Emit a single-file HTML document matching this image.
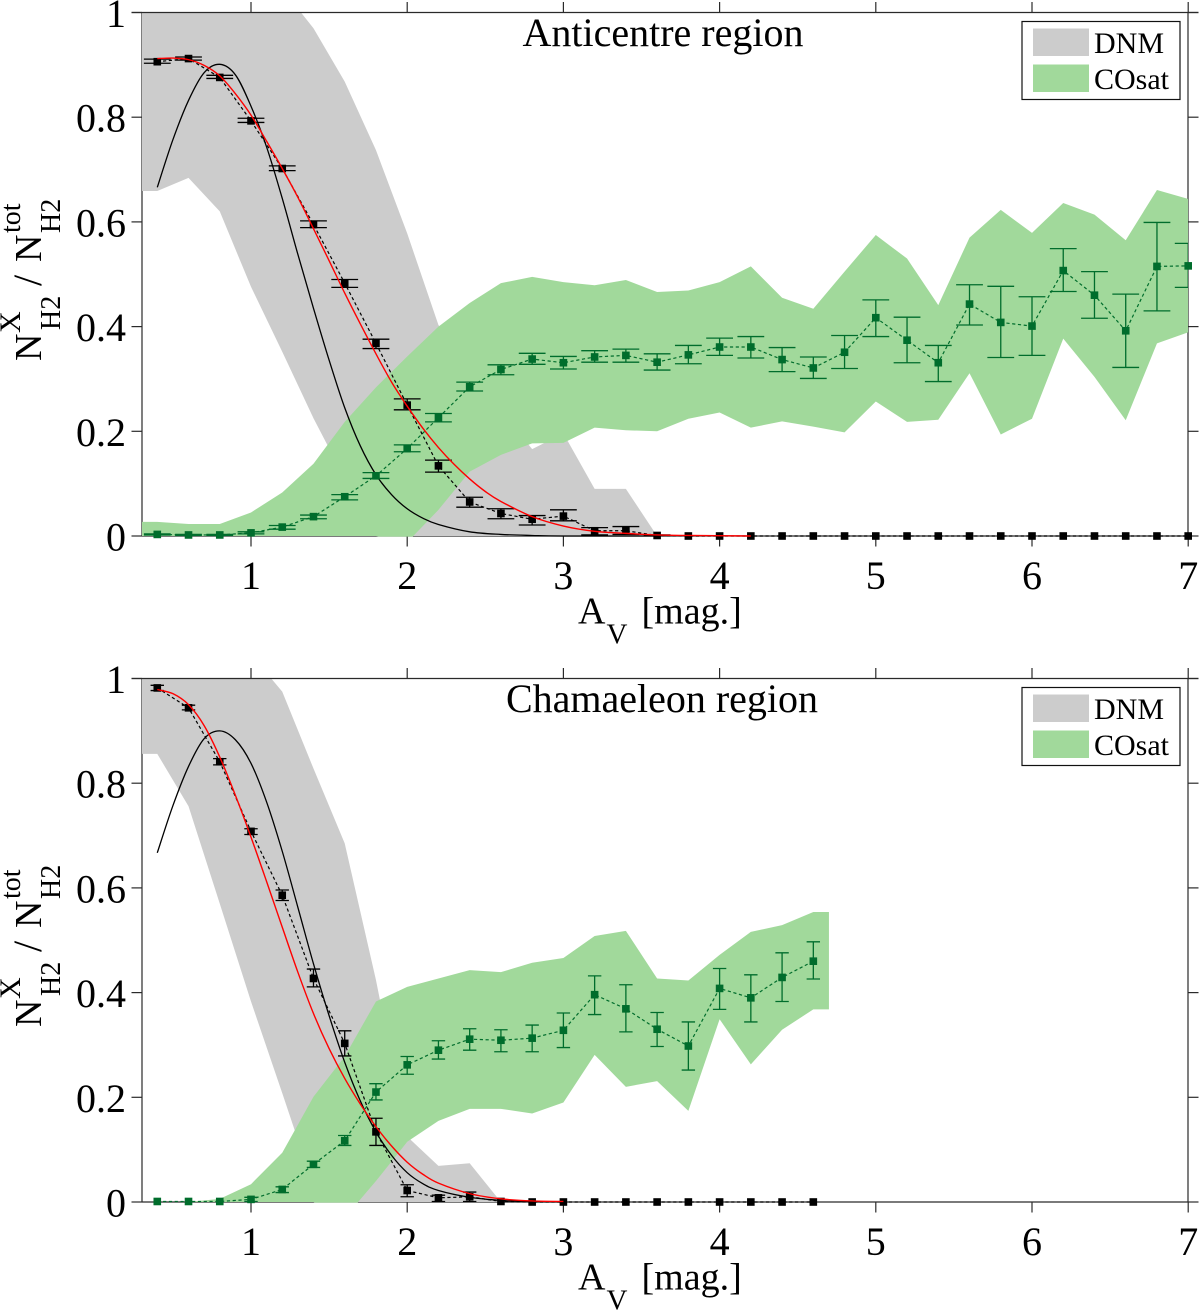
<!DOCTYPE html>
<html lang="en">
<head>
<meta charset="utf-8">
<title>H2 fractions versus AV</title>
<style>
html,body{margin:0;padding:0;background:#fff;}
svg{display:block;}
text{font-family:"Liberation Serif",serif;fill:#000;}
</style>
</head>
<body>
<svg id="figure" width="1200" height="1311" viewBox="0 0 1200 1311" xmlns="http://www.w3.org/2000/svg">
  <rect width="1200" height="1311" fill="#fff"/>
  <defs>
    <clipPath id="clip-top"><rect x="142" y="12" width="1046" height="524.6"/></clipPath>
    <clipPath id="clip-bot"><rect x="142" y="678" width="1046" height="524.6"/></clipPath>
    <clipPath id="clip-err-top"><rect x="130" y="0" width="1058" height="560"/></clipPath>
    <clipPath id="clip-err-bot"><rect x="130" y="666" width="1058" height="560"/></clipPath>
  </defs>

  <g id="panel-top"></g>
  <g id="panel-bot"></g>

  <g>
    <text x="663" y="46" font-size="40" text-anchor="middle">Anticentre region</text>
    <text y="623.5" font-size="38"><tspan x="578">A</tspan><tspan x="641.5">[mag.]</tspan></text>
    <text x="606.5" y="643.5" font-size="29">V</text>
    <g>
      <text transform="translate(41,361) rotate(-90)" font-size="38">N</text>
      <text transform="translate(60,330) rotate(-90)" font-size="28">H2</text>
      <text transform="translate(20,333) rotate(-90)" font-size="30">X</text>
      <text transform="translate(41,286) rotate(-90)" font-size="40">/</text>
      <text transform="translate(41,262) rotate(-90)" font-size="38">N</text>
      <text transform="translate(60,233) rotate(-90)" font-size="28">H2</text>
      <text transform="translate(20,233) rotate(-90)" font-size="28">tot</text>
    </g>
    <g>
      <rect x="1022" y="21.5" width="158" height="78" fill="#fff" stroke="#111" stroke-width="1.2"/>
      <rect x="1033" y="28.5" width="56" height="27.5" fill="#cccccc"/>
      <rect x="1033" y="64.5" width="56" height="27.5" fill="#a1d99b"/>
      <text x="1094" y="53" font-size="30">DNM</text>
      <text x="1094" y="89" font-size="30">COsat</text>
    </g>
  </g>

  <g>
    <text x="662" y="712" font-size="40" text-anchor="middle">Chamaeleon region</text>
    <text y="1289.5" font-size="38"><tspan x="578">A</tspan><tspan x="641.5">[mag.]</tspan></text>
    <text x="606.5" y="1309.5" font-size="29">V</text>
    <g>
      <text transform="translate(41,1027) rotate(-90)" font-size="38">N</text>
      <text transform="translate(60,996) rotate(-90)" font-size="28">H2</text>
      <text transform="translate(20,999) rotate(-90)" font-size="30">X</text>
      <text transform="translate(41,952) rotate(-90)" font-size="40">/</text>
      <text transform="translate(41,928) rotate(-90)" font-size="38">N</text>
      <text transform="translate(60,899) rotate(-90)" font-size="28">H2</text>
      <text transform="translate(20,899) rotate(-90)" font-size="28">tot</text>
    </g>
    <g>
      <rect x="1022" y="687.5" width="158" height="78" fill="#fff" stroke="#111" stroke-width="1.2"/>
      <rect x="1033" y="694.5" width="56" height="27.5" fill="#cccccc"/>
      <rect x="1033" y="730.5" width="56" height="27.5" fill="#a1d99b"/>
      <text x="1094" y="719" font-size="30">DNM</text>
      <text x="1094" y="755" font-size="30">COsat</text>
    </g>
  </g>
</svg>

<script>
// Tick labels
const xTickValues = [1, 2, 3, 4, 5, 6, 7];
const yTickValues = [0, 0.2, 0.4, 0.6, 0.8, 1];
const yTickLabels = ["0", "0.2", "0.4", "0.6", "0.8", "1"];

// Anticentre: measured points
const topDataX = [0.4,0.6,0.8,1,1.2,1.4,1.6,1.8,2,2.2,2.4,2.6,2.8,3,3.2,3.4,3.6,3.8,4,4.2,4.4,4.6,4.8,5,5.2,5.4,5.6,5.8,6,6.2,6.4,6.6,6.8,7];
const topDnmY = [0.906,0.912,0.876,0.793,0.702,0.595,0.483,0.368,0.25,0.134,0.065,0.043,0.032,0.038,0.010,0.010,0.001,0,0,0,0,0,0,0,0,0,0,0,0,0,0,0,0,0];
const topDnmHi = [0.911,0.915,0.880,0.798,0.707,0.602,0.490,0.376,0.262,0.145,0.074,0.052,0.039,0.05,0.016,0.018,0.002,0,0,0,0,0,0,0,0,0,0,0,0,0,0,0,0,0];
const topDnmLo = [0.903,0.909,0.874,0.790,0.698,0.589,0.475,0.358,0.241,0.122,0.055,0.033,0.021,0.029,0.002,0.003,0.001,0,0,0,0,0,0,0,0,0,0,0,0,0,0,0,0,0];
const topCoY = [0.003,0.002,0.002,0.006,0.017,0.037,0.075,0.115,0.167,0.226,0.285,0.318,0.338,0.331,0.342,0.345,0.332,0.346,0.361,0.361,0.337,0.321,0.351,0.417,0.374,0.331,0.443,0.408,0.401,0.507,0.460,0.392,0.515,0.516];
const topCoHi = [0.004,0.003,0.003,0.008,0.020,0.040,0.079,0.121,0.174,0.234,0.294,0.327,0.349,0.343,0.354,0.357,0.348,0.364,0.378,0.381,0.360,0.342,0.383,0.451,0.418,0.364,0.480,0.477,0.457,0.549,0.505,0.462,0.599,0.559];
const topCoLo = [0.002,0.001,0.001,0.004,0.013,0.033,0.069,0.110,0.161,0.218,0.277,0.308,0.328,0.319,0.332,0.332,0.317,0.329,0.345,0.340,0.314,0.301,0.320,0.381,0.331,0.295,0.403,0.341,0.345,0.467,0.416,0.322,0.430,0.475];

// Anticentre: shaded bands
const topBandX = [0.3,0.4,0.6,0.8,1,1.2,1.4,1.6,1.8,2,2.2,2.4,2.6,2.8,3,3.2,3.4,3.6,3.8,4,4.2,4.4,4.6,4.8,5,5.2,5.4,5.6,5.8,6,6.2,6.4,6.6,6.8,7];
const topGreyUpper = [1.2,1.2,1.18,1.15,1.1,1.045,0.97,0.868,0.737,0.578,0.403,0.32,0.24,0.166,0.196,0.09,0.09,0,0,0,0,0,0,0,0,0,0,0,0,0,0,0,0,0,0];
const topGreyLower = [0.659,0.659,0.684,0.62,0.476,0.352,0.225,0.11,0.04,0,0,0,0,0,0,0,0,0,0,0,0,0,0,0,0,0,0,0,0,0,0,0,0,0,0];
const topGreenUpper = [0.027,0.027,0.023,0.023,0.045,0.083,0.138,0.218,0.284,0.343,0.40,0.445,0.483,0.495,0.485,0.479,0.489,0.466,0.469,0.485,0.515,0.455,0.434,0.505,0.575,0.530,0.441,0.570,0.623,0.579,0.636,0.614,0.565,0.661,0.644];
const topGreenLower = [0,0,0,0,0,0,0,0,0,-0.012,0.05,0.123,0.155,0.177,0.178,0.207,0.202,0.2,0.224,0.236,0.207,0.219,0.209,0.198,0.257,0.218,0.222,0.311,0.194,0.224,0.377,0.304,0.221,0.368,0.389];

// Anticentre: model curves
const topBlackX = [0.4,0.5,0.6,0.7,0.8,0.9,1,1.1,1.2,1.3,1.4,1.5,1.6,1.7,1.8,1.9,2,2.1,2.2,2.4,2.6,2.8,3,3.6];
const topBlackY = [0.666,0.757,0.832,0.885,0.901,0.881,0.821,0.743,0.645,0.538,0.435,0.336,0.245,0.172,0.117,0.079,0.052,0.034,0.022,0.008,0.003,0.001,0,0];
const topRedX = [0.4,0.5,0.6,0.7,0.8,0.9,1,1.1,1.2,1.3,1.4,1.5,1.6,1.7,1.8,1.9,2,2.1,2.2,2.3,2.4,2.5,2.6,2.8,3,3.2,3.4,3.6,3.8,4.2];
const topRedY = [0.912,0.913,0.910,0.899,0.879,0.845,0.804,0.754,0.702,0.647,0.587,0.526,0.464,0.405,0.348,0.294,0.248,0.206,0.169,0.137,0.109,0.085,0.066,0.037,0.019,0.009,0.005,0.002,0.001,0];

// Chamaeleon: measured points
const botDataX = [0.4,0.6,0.8,1,1.2,1.4,1.6,1.8,2,2.2,2.4,2.6,2.8,3,3.2,3.4,3.6,3.8,4,4.2,4.4,4.6];
const botDnmY = [0.982,0.944,0.841,0.708,0.586,0.427,0.303,0.134,0.022,0.008,0.010,0.001,0,0,0,0,0,0,0,0,0,0];
const botDnmHi = [0.987,0.949,0.847,0.713,0.596,0.445,0.327,0.160,0.033,0.013,0.019,0.001,0,0,0,0,0,0,0,0,0,0];
const botDnmLo = [0.977,0.940,0.835,0.702,0.576,0.411,0.279,0.108,0.010,0.001,0.001,0.001,0,0,0,0,0,0,0,0,0,0];
const botCoY = [0.001,0.001,0.001,0.005,0.024,0.072,0.117,0.210,0.262,0.290,0.311,0.309,0.313,0.328,0.396,0.369,0.330,0.298,0.408,0.390,0.429,0.460];
const botCoHi = [0.001,0.001,0.001,0.009,0.029,0.078,0.127,0.226,0.278,0.308,0.331,0.329,0.338,0.361,0.432,0.415,0.362,0.344,0.446,0.434,0.476,0.497];
const botCoLo = [0.001,0.001,0.001,0.001,0.018,0.066,0.108,0.195,0.244,0.273,0.290,0.287,0.287,0.295,0.358,0.325,0.297,0.252,0.368,0.344,0.383,0.426];

// Chamaeleon: shaded bands
const botBandX = [0.3,0.4,0.6,0.8,1,1.2,1.4,1.6,1.8,2,2.2,2.4,2.6,2.8,3,3.2,3.4,3.6,3.8,4,4.2,4.4,4.6,4.7];
const botGreyUpper = [1.2,1.2,1.18,1.15,1.046,0.975,0.828,0.685,0.424,0.125,0.069,0.074,0,0,0,0,0,0,0,0,0,0,0,0];
const botGreyLower = [0.856,0.856,0.756,0.57,0.383,0.208,0.03,0,0,0,0,0,0,0,0,0,0,0,0,0,0,0,0,0];
const botGreenUpper = [0,0,0,0.006,0.034,0.094,0.201,0.278,0.383,0.411,0.427,0.443,0.439,0.457,0.466,0.508,0.518,0.427,0.423,0.472,0.516,0.529,0.554,0.554];
const botGreenLower = [0,0,0,0,0,0,0,-0.03,0.04,0.115,0.155,0.178,0.178,0.169,0.19,0.281,0.22,0.231,0.174,0.349,0.263,0.329,0.368,0.368];

// Chamaeleon: model curves
const botBlackX = [0.4,0.5,0.6,0.7,0.8,0.9,1,1.1,1.2,1.3,1.4,1.5,1.6,1.7,1.8,1.9,2,2.1,2.2,2.4,2.6,2.8,3];
const botBlackY = [0.667,0.757,0.832,0.885,0.900,0.883,0.838,0.764,0.670,0.563,0.455,0.356,0.267,0.193,0.134,0.089,0.056,0.035,0.022,0.009,0.003,0.001,0];
const botRedX = [0.4,0.5,0.6,0.7,0.8,0.9,1,1.1,1.2,1.3,1.4,1.5,1.6,1.7,1.8,1.9,2,2.1,2.2,2.4,2.6,2.8,3];
const botRedY = [0.979,0.971,0.950,0.910,0.850,0.777,0.697,0.612,0.525,0.439,0.36,0.293,0.236,0.187,0.144,0.107,0.076,0.053,0.036,0.016,0.006,0.002,0.001];

const NS = "http://www.w3.org/2000/svg";
const AXIS_LEFT = 142, AXIS_RIGHT = 1188;
const xPerUnit = 156.2, yHeight = 523.5;
function xAxis(v) { return 251 + xPerUnit * (v - 1); }
function yAxis(v, y0) { return y0 - yHeight * v; }

function mk(tag, attrs, parent) {
  const el = document.createElementNS(NS, tag);
  for (const k in attrs) el.setAttribute(k, attrs[k]);
  parent.appendChild(el);
  return el;
}
function bandPath(xs, up, lo, y0) {
  let d = "";
  xs.forEach(function (x, i) { d += (i ? "L" : "M") + xAxis(x).toFixed(2) + " " + yAxis(up[i], y0).toFixed(2); });
  for (let i = xs.length - 1; i >= 0; i--) d += "L" + xAxis(xs[i]).toFixed(2) + " " + yAxis(lo[i], y0).toFixed(2);
  return d + "Z";
}
function linePath(xs, ys, y0) {
  let d = "";
  xs.forEach(function (x, i) { d += (i ? "L" : "M") + xAxis(x).toFixed(2) + " " + yAxis(ys[i], y0).toFixed(2); });
  return d;
}
function smoothPath(xs, ys, y0) {
  const p = xs.map(function (x, i) { return [xAxis(x), yAxis(ys[i], y0)]; });
  let d = "M" + p[0][0].toFixed(2) + " " + p[0][1].toFixed(2);
  for (let i = 0; i < p.length - 1; i++) {
    const a = p[Math.max(i - 1, 0)], b = p[i], c = p[i + 1], e = p[Math.min(i + 2, p.length - 1)];
    const c1x = b[0] + (c[0] - a[0]) / 6, c1y = b[1] + (c[1] - a[1]) / 6;
    const c2x = c[0] - (e[0] - b[0]) / 6, c2y = c[1] - (e[1] - b[1]) / 6;
    d += "C" + c1x.toFixed(2) + " " + c1y.toFixed(2) + " " + c2x.toFixed(2) + " " + c2y.toFixed(2) + " " + c[0].toFixed(2) + " " + c[1].toFixed(2);
  }
  return d;
}

function drawAxes(g, y0, y1) {
  const axisColor = "#2a2a2a";
  const left = mk("line", { x1: AXIS_LEFT, x2: AXIS_LEFT, y1: y1, y2: y0, stroke: axisColor, "stroke-width": 1.2 }, g);
  
  
  const right = mk("line", { x1: AXIS_RIGHT, x2: AXIS_RIGHT, y1: y1, y2: y0, stroke: axisColor, "stroke-width": 1.2 }, g);
  
  
  const bottom = mk("line", { x1: AXIS_LEFT, x2: AXIS_RIGHT, y1: y0, y2: y0, stroke: axisColor, "stroke-width": 1.2 }, g);
  
  

  xTickValues.forEach(function (v) {
    const px = xAxis(v);
    const tb = mk("line", { x1: px, x2: px, y1: y0, y2: y0 + 10.5, stroke: axisColor, "stroke-width": 1.2 }, g);
    
    
    const tt = mk("line", { x1: px, x2: px, y1: y1, y2: y1 - 10.5, stroke: axisColor, "stroke-width": 1.2 }, g);
    
    
    const lab = mk("text", { x: px, y: y0 + 53, "font-size": 40, "text-anchor": "middle" }, g);
    
    
    lab.textContent = String(v);
  });
  yTickValues.forEach(function (v, i) {
    const py = yAxis(v, y0);
    const tl = mk("line", { x1: AXIS_LEFT - 10.5, x2: AXIS_LEFT, y1: py, y2: py, stroke: axisColor, "stroke-width": 1.2 }, g);
    
    
    const tr = mk("line", { x1: AXIS_RIGHT, x2: AXIS_RIGHT + 10.5, y1: py, y2: py, stroke: axisColor, "stroke-width": 1.2 }, g);
    
    
    const lab = mk("text", { x: 126, y: py + 14.5, "font-size": 40, "text-anchor": "end" }, g);
    
    
    lab.textContent = yTickLabels[i];
  });
}

function drawPoints(g, xs, ys, hi, lo, y0, color, capHalf, clipId, seriesName) {
  const dashed = mk("path", { d: linePath(xs, ys, y0), fill: "none", stroke: color, "stroke-width": 1.2, "stroke-dasharray": "3.2 2.6" }, g);
  
  
  const errs = mk("g", { "clip-path": "url(#" + clipId + ")" }, g);
  
  
  xs.forEach(function (x, i) {
    if (hi[i] === lo[i]) return;
    const px = xAxis(x), a = yAxis(hi[i], y0), b = yAxis(lo[i], y0);
    const d = "M" + px + " " + a + "L" + px + " " + b +
      "M" + (px - capHalf) + " " + a + "L" + (px + capHalf) + " " + a +
      "M" + (px - capHalf) + " " + b + "L" + (px + capHalf) + " " + b;
    const e = mk("path", { d: d, fill: "none", stroke: color, "stroke-width": 1.3 }, errs);
    
    
  });
  xs.forEach(function (x, i) {
    const m = mk("rect", { x: xAxis(x) - 3.8, y: yAxis(ys[i], y0) - 3.8, width: 7.6, height: 7.6, fill: color }, g);
    
    
  });
}

function drawPanel(cfg) {
  const g = document.getElementById(cfg.id);
  const y0 = cfg.y0, y1 = y0 - yHeight;
  drawAxes(g, y0, y1);

  const grey = mk("path", { d: bandPath(cfg.bandX, cfg.greyUp, cfg.greyLo, y0), fill: "#cccccc", "clip-path": "url(#" + cfg.clip + ")" }, g);
  
  
  const green = mk("path", { d: bandPath(cfg.bandX, cfg.greenUp, cfg.greenLo, y0), fill: "#a1d99b", "clip-path": "url(#" + cfg.clip + ")" }, g);
  
  

  const topSpine = mk("line", { x1: AXIS_LEFT - 10.5, x2: AXIS_RIGHT + 10.5, y1: y1, y2: y1, stroke: "#2a2a2a", "stroke-width": 1.2 }, g);
  
  

  const black = mk("path", { d: smoothPath(cfg.blackX, cfg.blackY, y0), fill: "none", stroke: "#000", "stroke-width": 1.3 }, g);
  
  

  drawPoints(g, cfg.x, cfg.coY, cfg.coHi, cfg.coLo, y0, "#006d2c", cfg.cap, cfg.errClip, "cosat");
  drawPoints(g, cfg.x, cfg.dnmY, cfg.dnmHi, cfg.dnmLo, y0, "#000000", cfg.cap, cfg.errClip, "dnm");

  const red = mk("path", { d: smoothPath(cfg.redX, cfg.redY, y0), fill: "none", stroke: "#ff0000", "stroke-width": 1.4 }, g);
  
  
}

drawPanel({
  id: "panel-top", y0: 536, cap: 13.4, clip: "clip-top", errClip: "clip-err-top",
  x: topDataX, dnmY: topDnmY, dnmHi: topDnmHi, dnmLo: topDnmLo, coY: topCoY, coHi: topCoHi, coLo: topCoLo,
  bandX: topBandX, greyUp: topGreyUpper, greyLo: topGreyLower, greenUp: topGreenUpper, greenLo: topGreenLower,
  blackX: topBlackX, blackY: topBlackY, redX: topRedX, redY: topRedY
});
drawPanel({
  id: "panel-bot", y0: 1202, cap: 6.7, clip: "clip-bot", errClip: "clip-err-bot",
  x: botDataX, dnmY: botDnmY, dnmHi: botDnmHi, dnmLo: botDnmLo, coY: botCoY, coHi: botCoHi, coLo: botCoLo,
  bandX: botBandX, greyUp: botGreyUpper, greyLo: botGreyLower, greenUp: botGreenUpper, greenLo: botGreenLower,
  blackX: botBlackX, blackY: botBlackY, redX: botRedX, redY: botRedY
});
</script>
</body>
</html>
